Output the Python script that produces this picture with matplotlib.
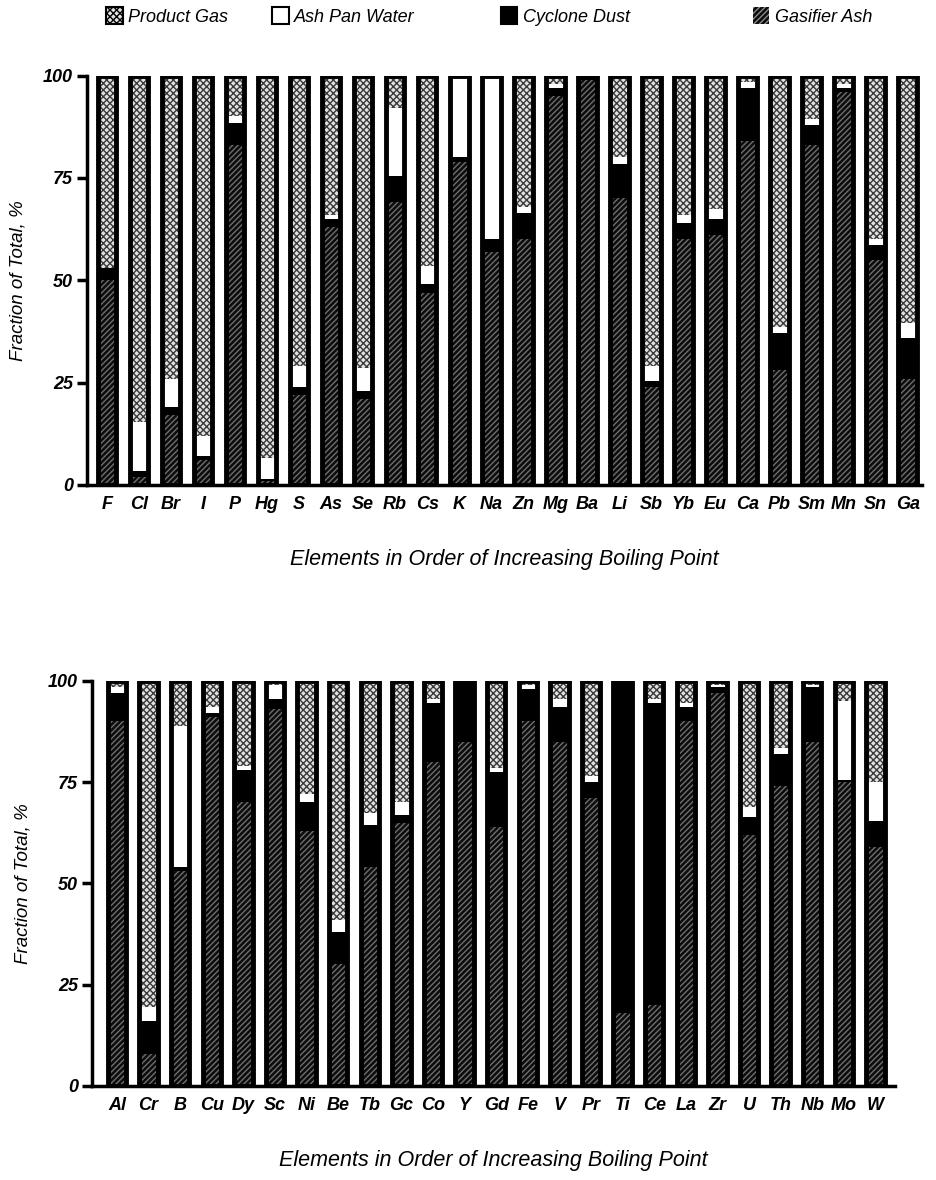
import matplotlib
matplotlib.use("Agg")
import matplotlib.pyplot as plt
from matplotlib.patches import Patch
import numpy as np

plt.rcParams['font.family'] = ['Liberation Sans', 'DejaVu Sans']
plt.rcParams['hatch.linewidth'] = 1.0

# top panel
elements_top = ["F", "Cl", "Br", "I", "P", "Hg", "S", "As", "Se", "Rb", "Cs", "K", "Na",
                "Zn", "Mg", "Ba", "Li", "Sb", "Yb", "Eu", "Ca", "Pb", "Sm", "Mn", "Sn", "Ga"]
ash_top = [50, 2, 17, 6, 83, 1, 22, 63, 21, 69, 47, 79, 57,
           60, 95, 99, 70, 24, 60, 61, 84, 28, 83, 96, 55, 26]
dust_top = [3, 1.5, 2, 1, 5.5, 0.5, 2, 2, 2, 6.5, 2, 1, 3,
            6.5, 2, 1, 8.5, 1.5, 4, 4, 13, 9, 5, 1, 3.5, 10]
water_top = [0, 12, 7, 5, 1.5, 5, 5, 1, 5.5, 16.5, 4.5, 20, 40,
             1.5, 1, 0, 1.5, 3.5, 2, 2.5, 1.5, 1.5, 1.5, 1, 1.5, 3.5]
gas_top = [47, 84.5, 74, 88, 10, 93.5, 71, 34, 71.5, 8, 46.5, 0, 0,
           32, 2, 0, 20, 71, 34, 32.5, 1.5, 61.5, 10.5, 2, 40, 60.5]

# bottom panel
elements_bot = ["Al", "Cr", "B", "Cu", "Dy", "Sc", "Ni", "Be", "Tb", "Gc", "Co", "Y", "Gd",
                "Fe", "V", "Pr", "Ti", "Ce", "La", "Zr", "U", "Th", "Nb", "Mo", "W"]
ash_bot = [90, 8, 53, 91, 70, 93, 63, 30, 54, 65, 80, 85, 64,
           90, 85, 71, 18, 20, 90, 97, 62, 74, 85, 75, 59]
dust_bot = [7, 8, 1, 1, 8, 2.5, 7, 8, 10.5, 2, 14.5, 15, 13.5,
            8, 8.5, 4, 82, 74.5, 3.5, 1.5, 4.5, 8, 13.5, 0.5, 6.5]
water_bot = [1.5, 3.5, 35, 1.5, 1, 3.5, 2, 3, 3, 3, 1, 0, 1,
             1, 2, 1.5, 0, 1, 1, 0.5, 2.5, 1.5, 0.5, 19.5, 9.5]
gas_bot = [1.5, 80.5, 11, 6.5, 21, 1, 28, 59, 32.5, 30, 4.5, 0, 21.5,
           1, 4.5, 23.5, 0, 4.5, 5.5, 1, 31, 16.5, 1, 5, 25]

series_names = ["Product Gas", "Ash Pan Water", "Cyclone Dust", "Gasifier Ash"]
styles = {
    "Gasifier Ash": dict(facecolor="#0c0c0c", edgecolor="#6e6e6e", hatch="//////"),
    "Cyclone Dust": dict(facecolor="black", edgecolor="black", hatch=None),
    "Ash Pan Water": dict(facecolor="white", edgecolor="white", hatch=None),
    "Product Gas": dict(facecolor="#e2e2e2", edgecolor="#3a3a3a", hatch="xxxxx"),
}
BAR_W = 0.58
lab_font = dict(style="italic", fontweight="bold", fontsize=13)


def draw_panel(ax, names, ash, dust, water, gas, xlim):
    x = np.arange(len(names))
    bottom = np.zeros(len(names))
    for key, vals in [("Gasifier Ash", ash), ("Cyclone Dust", dust),
                      ("Ash Pan Water", water), ("Product Gas", gas)]:
        vals = np.array(vals, dtype=float)
        st = styles[key]
        ax.bar(x, vals, BAR_W, bottom=bottom, facecolor=st["facecolor"],
               edgecolor=st["edgecolor"], hatch=st["hatch"], linewidth=0)
        bottom += vals
    # heavy outline around each stack
    ax.bar(x, bottom, BAR_W, facecolor="none", edgecolor="black", linewidth=3.5)

    ax.set_xlim(*xlim)
    ax.set_ylim(0, 100)
    ax.set_xticks(x)
    ax.set_xticklabels(names, **lab_font)
    ax.set_yticks([0, 25, 50, 75, 100])
    ax.set_yticklabels(["0", "25", "50", "75", "100"], **lab_font)
    ax.tick_params(axis="x", length=0, pad=8)
    ax.tick_params(axis="y", length=7, width=2.5, pad=3)
    for s in ["top", "right"]:
        ax.spines[s].set_visible(False)
    for s in ["left", "bottom"]:
        ax.spines[s].set_linewidth(2.5)
    ax.spines["bottom"].set_zorder(5)
    ax.set_ylabel("Fraction of Total, %", labelpad=12, style="italic", fontsize=13.5)
    ax.set_xlabel("Elements in Order of Increasing Boiling Point", labelpad=26,
                  style="italic", fontsize=15.5)


fig = plt.figure(figsize=(9.37, 11.8), dpi=100)
ax1 = fig.add_axes([0.0928, 0.589, 0.891, 0.347])
ax2 = fig.add_axes([0.0982, 0.0797, 0.857, 0.3432])
ax1.patch.set_alpha(0)
ax2.patch.set_alpha(0)

draw_panel(ax1, elements_top, ash_top, dust_top, water_top, gas_top, (-0.62, 25.44))
draw_panel(ax2, elements_bot, ash_bot, dust_bot, water_bot, gas_bot, (-0.79, 24.62))

# legend across the top, one entry at a time to match the spacing
leg_x = [0.104, 0.281, 0.525, 0.794]
for name, lx in zip(series_names, leg_x):
    st = styles[name]
    h = Patch(facecolor=st["facecolor"], edgecolor="black" if name != "Gasifier Ash" else "#8a8a8a",
              hatch=st["hatch"], linewidth=1.5 if name != "Gasifier Ash" else 0)
    fig.legend(handles=[h], labels=[name], loc="center left", bbox_to_anchor=(lx, 0.986),
               frameon=False, handlelength=0.9, handleheight=1.1, handletextpad=0.3,
               borderpad=0, prop=dict(style="italic", size=13))

fig.savefig("out.png", dpi=100)
